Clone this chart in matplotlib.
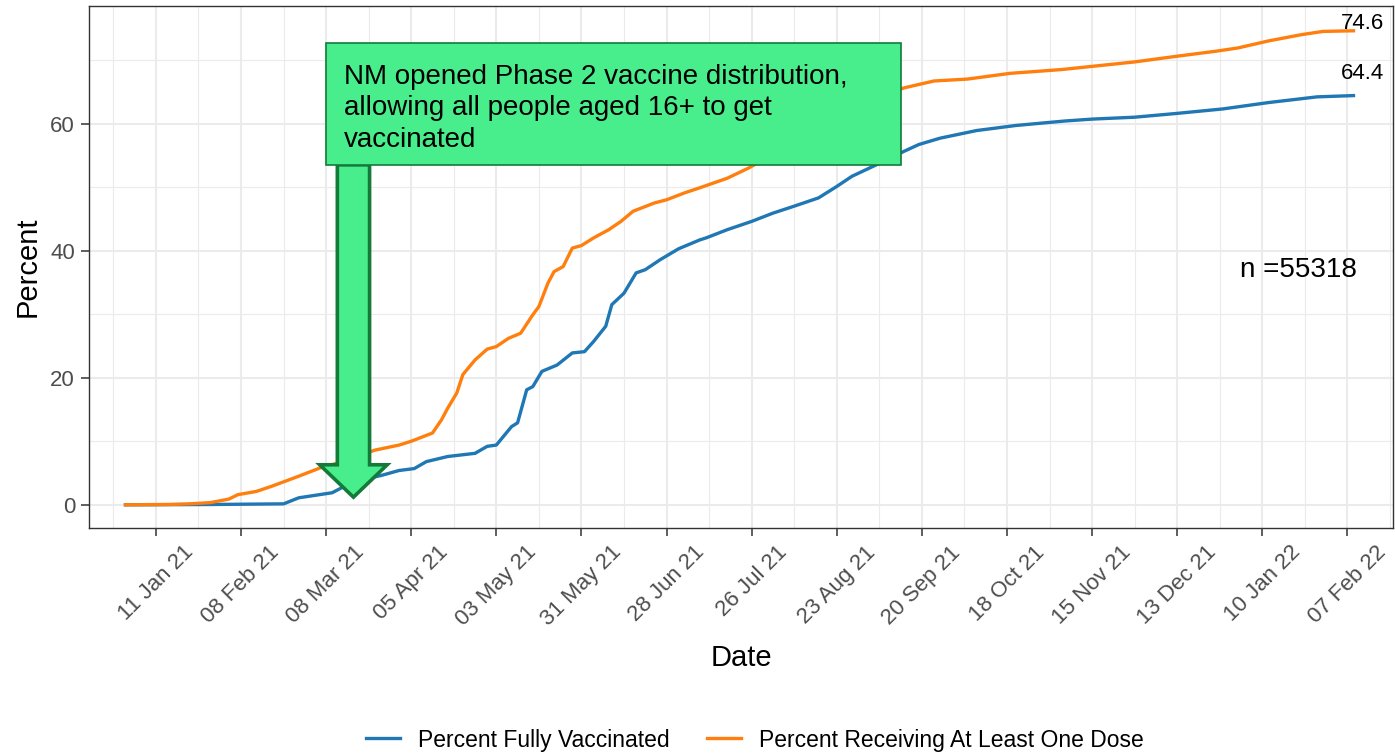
import matplotlib
matplotlib.use("Agg")
import matplotlib.pyplot as plt
import matplotlib.dates as mdates
from matplotlib.patches import Polygon, Rectangle
import pandas as pd

plt.rcParams["font.family"] = ["Liberation Sans", "DejaVu Sans"]

# values
fullyDates = ["2021-01-01", "2021-01-29", "2021-02-22", "2021-02-27", "2021-03-10", "2021-03-14",
              "2021-03-20", "2021-03-26", "2021-04-01", "2021-04-06", "2021-04-10", "2021-04-17",
              "2021-04-26", "2021-04-30", "2021-05-03", "2021-05-08", "2021-05-10", "2021-05-13",
              "2021-05-15", "2021-05-18", "2021-05-23", "2021-05-28", "2021-06-01", "2021-06-04",
              "2021-06-08", "2021-06-10", "2021-06-14", "2021-06-18", "2021-06-21", "2021-06-26",
              "2021-07-02", "2021-07-09", "2021-07-11", "2021-07-18", "2021-07-26", "2021-08-02",
              "2021-08-09", "2021-08-17", "2021-08-23", "2021-08-28", "2021-09-05", "2021-09-14",
              "2021-09-19", "2021-09-26", "2021-10-08", "2021-10-21", "2021-11-06", "2021-11-15",
              "2021-11-29", "2021-12-13", "2021-12-28", "2022-01-12", "2022-01-28", "2022-02-09"]
fullyPct = [0.0, 0.05, 0.15, 1.1, 1.9, 2.9,
            4.0, 4.6, 5.4, 5.7, 6.8, 7.6,
            8.1, 9.2, 9.4, 12.3, 12.9, 18.1,
            18.6, 21.0, 22.0, 23.9, 24.1, 25.7,
            28.1, 31.5, 33.3, 36.5, 37.0, 38.6,
            40.3, 41.7, 42.0, 43.3, 44.6, 45.9,
            47.0, 48.3, 50.1, 51.7, 53.5, 55.6,
            56.7, 57.7, 58.9, 59.7, 60.4, 60.7,
            61.0, 61.6, 62.3, 63.3, 64.2, 64.4]

oneDoseDates = ["2021-01-01", "2021-01-15", "2021-01-22", "2021-01-29", "2021-02-04", "2021-02-07",
                "2021-02-13", "2021-02-18", "2021-02-27", "2021-03-06", "2021-03-15", "2021-03-24",
                "2021-04-01", "2021-04-05", "2021-04-12", "2021-04-15", "2021-04-17", "2021-04-20",
                "2021-04-22", "2021-04-26", "2021-04-30", "2021-05-03", "2021-05-07", "2021-05-11",
                "2021-05-15", "2021-05-17", "2021-05-20", "2021-05-22", "2021-05-25", "2021-05-28",
                "2021-05-31", "2021-06-04", "2021-06-09", "2021-06-13", "2021-06-17", "2021-06-24",
                "2021-06-28", "2021-07-04", "2021-07-09", "2021-07-12", "2021-07-18", "2021-07-25",
                "2021-08-07", "2021-08-21", "2021-09-04", "2021-09-14", "2021-09-24", "2021-10-05",
                "2021-10-19", "2021-11-05", "2021-11-15", "2021-11-29", "2021-12-13", "2021-12-26",
                "2022-01-02", "2022-01-12", "2022-01-23", "2022-01-30", "2022-02-09"]
oneDosePct = [0.0, 0.05, 0.15, 0.35, 0.9, 1.6,
              2.1, 2.9, 4.5, 5.8, 7.0, 8.6,
              9.4, 10.0, 11.3, 13.4, 15.2, 17.6,
              20.5, 22.8, 24.5, 24.9, 26.2, 27.0,
              29.9, 31.2, 34.9, 36.7, 37.5, 40.4,
              40.8, 42.0, 43.3, 44.6, 46.2, 47.5,
              48.0, 49.1, 49.9, 50.4, 51.4, 53.0,
              56.5, 60.0, 63.5, 65.6, 66.7, 67.0,
              67.9, 68.5, 69.0, 69.7, 70.6, 71.4,
              71.9, 73.0, 74.0, 74.5, 74.6]

seriesNames = ["Percent Fully Vaccinated", "Percent Receiving At Least One Dose"]
seriesColors = ["#1f77b4", "#ff7f0e"]
endLabels = ["64.4", "74.6"]
sampleText = "n =55318"
noteText = "NM opened Phase 2 vaccine distribution,\nallowing all people aged 16+ to get\nvaccinated"
phase2Date = "2021-03-17"

greyText = "#4D4D4D"
gridCol = "#EBEBEB"
darkCol = "#333333"
noteFill = "#48EE8B"
noteEdge = "#137A3A"


def d(s):
    return mdates.date2num(pd.Timestamp(s))


fig = plt.figure(figsize=(13.95, 7.53), dpi=100)
ax = fig.add_axes([89 / 1395, 1 - 528 / 753, (1393 - 89) / 1395, (528 - 6) / 753])

handles = []
for dates, vals, col in [(fullyDates, fullyPct, seriesColors[0]), (oneDoseDates, oneDosePct, seriesColors[1])]:
    h, = ax.plot(pd.to_datetime(dates), vals, color=col, lw=2.4, solid_joinstyle="round", zorder=3)
    handles.append(h)

ax.set_xlim(d("2020-12-20"), d("2022-02-22"))
ax.set_ylim(-3.65, 78.5)

majorTicks = pd.date_range("2021-01-11", "2022-02-07", freq="28D")
minorTicks = pd.date_range("2020-12-28", "2022-02-21", freq="28D")
ax.set_xticks(majorTicks)
ax.set_xticks(minorTicks, minor=True)
ax.xaxis.set_major_formatter(mdates.DateFormatter("%d %b %y"))
ax.set_yticks([0, 20, 40, 60])
ax.set_yticks([10, 30, 50, 70], minor=True)

ax.grid(which="major", color=gridCol, lw=1.5, zorder=0)
ax.grid(which="minor", color=gridCol, lw=0.8, zorder=0)
ax.set_axisbelow(True)
ax.tick_params(which="major", length=6, width=1.1, color=darkCol, labelsize=16, labelcolor=greyText, pad=4)
ax.tick_params(which="minor", length=0)
ax.tick_params(axis="x", labelrotation=45)
for sp in ax.spines.values():
    sp.set_color(darkCol)
    sp.set_linewidth(1.0)

ax.set_xlabel("Date", fontsize=21)
ax.xaxis.set_label_coords(0.5, -0.222)
ax.set_ylabel("Percent", fontsize=21)
ax.yaxis.set_label_coords(-0.036, 0.5)

# annotation box and arrow
boxLeft, boxRight, boxBottom, boxTop = d("2021-03-08"), d("2021-09-13"), 53.5, 72.6
ax.add_patch(Rectangle((boxLeft, boxBottom), boxRight - boxLeft, boxTop - boxBottom,
                       facecolor=noteFill, edgecolor=noteEdge, lw=1.2, zorder=6))
xc = d(phase2Date)
shaftHalf, headHalf, headBase, tip = 5.3, 11.1, 6.3, 1.2
arrowPts = [(xc - shaftHalf, boxBottom), (xc - shaftHalf, headBase), (xc - headHalf, headBase),
            (xc, tip), (xc + headHalf, headBase), (xc + shaftHalf, headBase), (xc + shaftHalf, boxBottom)]
ax.add_patch(Polygon(arrowPts, closed=True, facecolor=noteFill, edgecolor=noteEdge,
                     lw=2.6, joinstyle="miter", zorder=5))
ax.text(d("2021-03-14"), 62.4, noteText, fontsize=20, ha="left", va="center", linespacing=1.27, zorder=7)

ax.text(d("2022-01-22"), 37.0, sampleText, fontsize=20, ha="center", va="center")
ax.text(d("2022-02-12"), 67.8, endLabels[0], fontsize=16, ha="center", va="center")
ax.text(d("2022-02-12"), 75.8, endLabels[1], fontsize=16, ha="center", va="center")

fig.legend(handles, seriesNames, loc="center", bbox_to_anchor=(755 / 1395, 1 - 740 / 753), ncol=2,
           frameon=False, fontsize=16.5, handlelength=1.5, handletextpad=0.8, columnspacing=1.6)

fig.savefig("out.png", dpi=100)
